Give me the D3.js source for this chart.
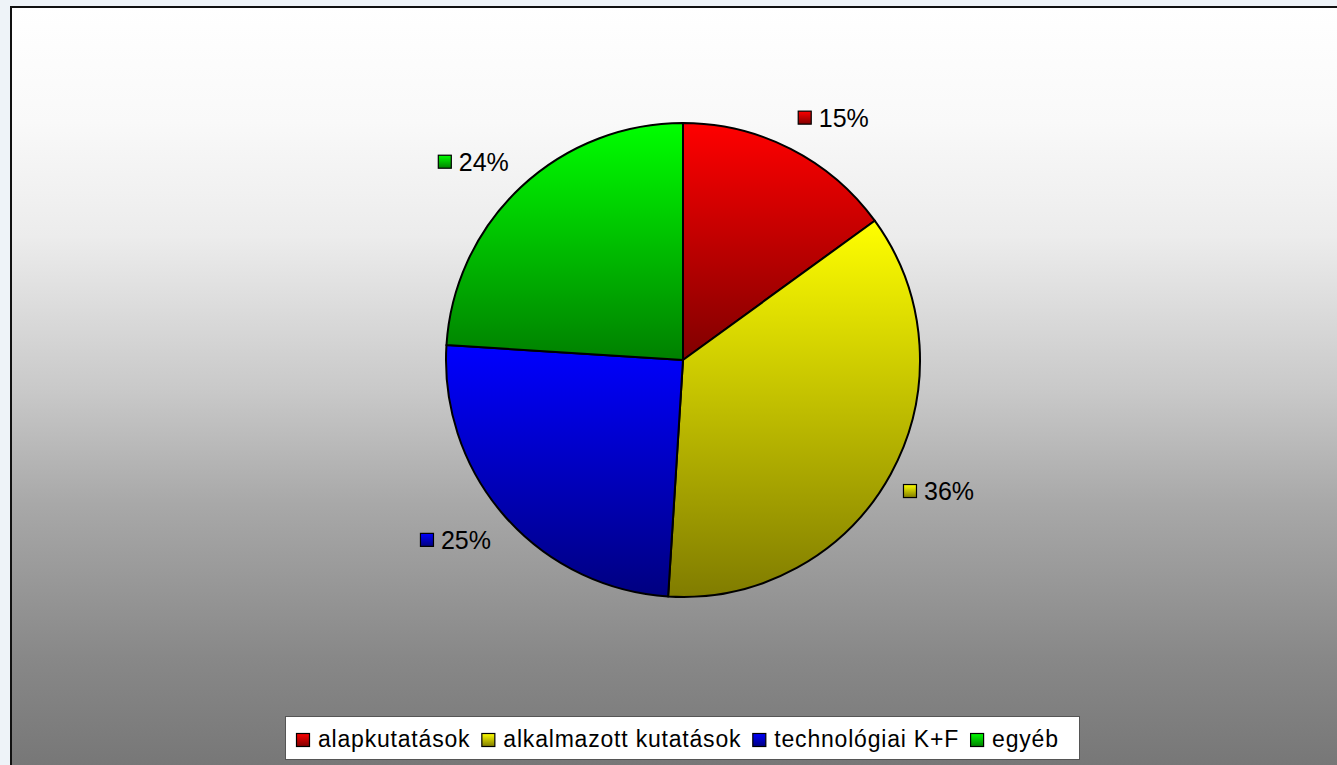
<!DOCTYPE html>
<html>
<head>
<style type="text/css">
body { margin: 0; background: #eef3f8; }
text { font-family: "Liberation Sans", Arial, sans-serif; fill: #000; }
</style>
<script src="https://d3js.org/d3.v7.min.js"></script>
</head>
<body>
<script type="text/javascript">
var width = 1337;
var height = 765;

var categories = ["alapkutatások", "alkalmazott kutatások", "technológiai K+F", "egyéb"];
var values = [15, 36, 25, 24];
var labels = ["15%", "36%", "25%", "24%"];
var colors = ["#ff0000", "#ffff00", "#0000ff", "#00ff00"];
var darks = ["#800000", "#807c00", "#000080", "#008000"];

var svg = d3.select("body").append("svg").attr("width", width).attr("height", height);
var defs = svg.append("defs");

// background gradient, white on top to grey at the bottom
var bg = defs.append("linearGradient").attr("id", "bg").attr("x1", 0).attr("y1", 0).attr("x2", 0).attr("y2", 1);
[[0, "#ffffff"], [0.15, "#f9f9f9"], [0.3, "#ececec"], [0.5, "#c9c9c9"], [0.65, "#a8a8a8"], [0.85, "#888888"], [1, "#767676"]]
	.forEach(function(s) { bg.append("stop").attr("offset", s[0]).attr("stop-color", s[1]); });

colors.forEach(function(c, i) {
	var g = defs.append("linearGradient").attr("id", "g" + i).attr("x1", 0).attr("y1", 0).attr("x2", 0).attr("y2", 1);
	g.append("stop").attr("offset", 0).attr("stop-color", c);
	g.append("stop").attr("offset", 1).attr("stop-color", darks[i]);
});

svg.append("rect").attr("x", 11).attr("y", 7).attr("width", width).attr("height", height)
	.attr("fill", "url(#bg)").attr("stroke", "#111").attr("stroke-width", 2);

var cx = 683, cy = 360, r = 237;
var pie = d3.pie().sort(null).value(function(d) { return d; });
var arcs = pie(values);
var arc = d3.arc().innerRadius(0).outerRadius(r);

var g = svg.append("g").attr("transform", "translate(" + cx + "," + cy + ")");
g.selectAll("path").data(arcs).enter().append("path")
	.attr("d", arc)
	.attr("fill", function(d, i) { return "url(#g" + i + ")"; })
	.attr("stroke", "#000")
	.attr("stroke-width", 2)
	.attr("stroke-linejoin", "round");

// data labels, marker + percent, centred near a circle outside the pie
var labelArc = d3.arc().innerRadius(272).outerRadius(272);
var lab = g.selectAll("g.lab").data(arcs).enter().append("g").attr("class", "lab")
	.attr("transform", function(d) {
		var p = labelArc.centroid(d);
		var a = (d.startAngle + d.endAngle) / 2;
		var off = Math.sin(a) < 0 ? -24 : 20 + 7 * Math.cos(a);
		var x = p[0] + off - 35;
		return "translate(" + x + "," + p[1] + ")";
	});
lab.append("rect").attr("x", 0.5).attr("y", -6.5).attr("width", 13).attr("height", 13)
	.attr("fill", function(d, i) { return "url(#g" + i + ")"; }).attr("stroke", "#000").attr("stroke-width", 1.2);
lab.append("text").attr("x", 21).attr("y", 9).attr("font-size", 25)
	.text(function(d, i) { return labels[i]; });

// legend
var lg = svg.append("g");
lg.append("rect").attr("x", 285.5).attr("y", 716.5).attr("width", 794).attr("height", 43)
	.attr("fill", "#fff").attr("stroke", "#555").attr("stroke-width", 1);
var lx = 296;
categories.forEach(function(c, i) {
	lg.append("rect").attr("x", lx + 0.5).attr("y", 733.5).attr("width", 13).attr("height", 13)
		.attr("fill", "url(#g" + i + ")").attr("stroke", "#000").attr("stroke-width", 1.2);
	var t = lg.append("text").attr("x", lx + 22).attr("y", 747).attr("font-size", 23)
		.attr("letter-spacing", 0.8).text(c);
	lx += 22 + t.node().getComputedTextLength() + 11;
});
</script>
</body>
</html>
